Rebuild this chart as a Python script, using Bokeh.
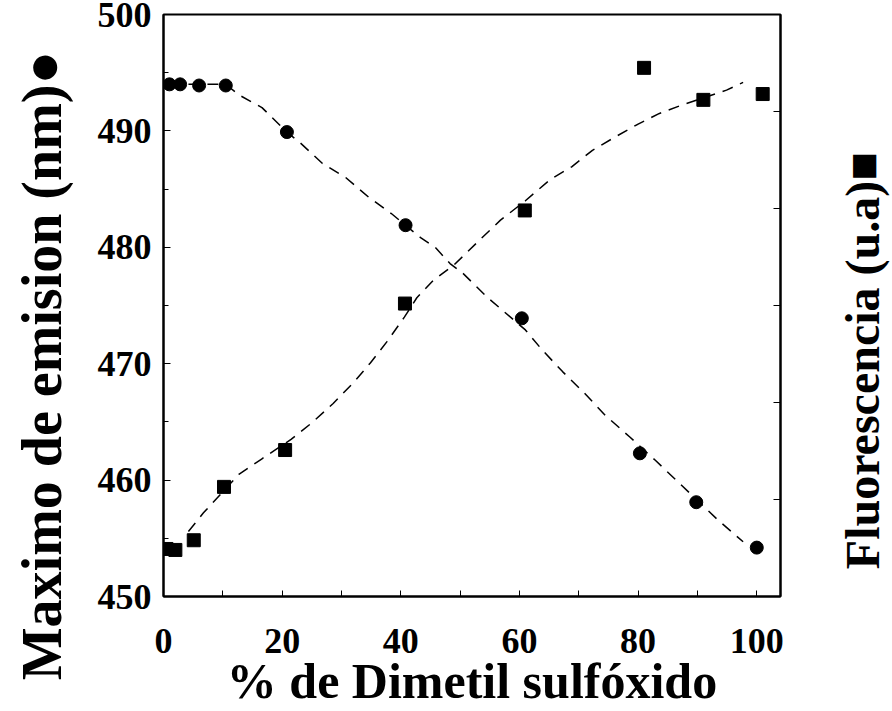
from bokeh.plotting import figure
from bokeh.layouts import row
from bokeh.models import Range1d, LinearAxis, FixedTicker, Label
from bokeh.embed import file_html
from bokeh.resources import INLINE

# --- data ---
pct_circ = [1.0, 2.8, 6.0, 10.5, 20.8, 40.8, 60.4, 80.3, 89.8, 100.0]
emis_max = [494.0, 494.0, 493.9, 493.9, 489.9, 481.9, 473.9, 462.3, 458.1, 454.2]

pct_sq = [0.5, 2.0, 5.1, 10.2, 20.5, 40.7, 60.9, 81.0, 91.0, 101.0]
fluor = [0.49, 0.48, 0.58, 1.13, 1.51, 3.02, 3.98, 5.45, 5.12, 5.18]

fit_emis_x = [1.0, 6.0, 10.5, 12.7, 16.6, 18.0, 20.8, 23.0, 26.8, 30.7, 34.6, 38.4,
              43.4, 45.8, 48.3, 50.4, 54.6, 61.0, 63.8, 67.3, 70.9, 74.4, 78.6,
              82.9, 86.4, 89.9, 93.4, 97.7]
fit_emis_y = [494.0, 494.0, 494.0, 493.1, 492.0, 491.3, 489.9, 489.0, 487.2, 486.0,
              484.3, 482.9, 480.8, 480.0, 478.6, 477.8, 475.7, 472.9, 471.2, 469.3,
              467.5, 465.6, 463.7, 461.7, 460.0, 458.3, 456.6, 454.7]

fit_fl_x = [4.2, 6.7, 12.7, 16.6, 21.5, 25.0, 28.6, 32.1, 34.9, 37.7, 40.6, 42.7,
            45.5, 49.0, 53.2, 56.8, 61.0, 65.2, 68.8, 72.3, 76.2, 80.0, 83.6, 87.1,
            91.0, 94.9, 97.7]
fit_fl_y = [0.67, 0.86, 1.26, 1.42, 1.62, 1.79, 1.99, 2.21, 2.41, 2.63, 2.88, 3.08,
            3.26, 3.42, 3.67, 3.88, 4.08, 4.30, 4.43, 4.60, 4.74, 4.87, 4.98, 5.06,
            5.14, 5.22, 5.30]

x_ticks = [0, 20, 40, 60, 80, 100]
x_minor = [10, 30, 50, 70, 90]
y_ticks = [450, 460, 470, 480, 490, 500]
y_minor = [455, 465, 475, 485, 495]
fl_ticks = [1, 2, 3, 4, 5]

x_title = "% de Dimetil sulfóxido"
y_title = "Maximo de emision (nm)●"
y2_title = "Fluorescencia (u.a)■"

FONT = "Liberation Serif"
H = 711
LEFT_W, RIGHT_W = 78, 70
MAIN_W = 892 - LEFT_W - RIGHT_W
FRAME_LEFT, FRAME_RIGHT = 163, 780

p = figure(width=MAIN_W, height=H, x_range=Range1d(0, 104), y_range=Range1d(450, 500),
           output_backend="svg", toolbar_location=None, frame_align=False,
           min_border_left=FRAME_LEFT - LEFT_W,
           min_border_right=(LEFT_W + MAIN_W) - FRAME_RIGHT,
           min_border_top=14, min_border_bottom=114)
p.extra_y_ranges = {"fl": Range1d(0, 6)}

p.xgrid.visible = False
p.ygrid.visible = False
p.outline_line_color = "black"
p.outline_line_width = 2
p.background_fill_color = "white"
p.border_fill_color = "white"

# left axis
ya = p.yaxis[0]
ya.ticker = FixedTicker(ticks=y_ticks, minor_ticks=y_minor)
ya.major_tick_in = 7
ya.major_tick_out = 0
ya.minor_tick_in = 5
ya.minor_tick_out = 0
ya.axis_line_width = 2
ya.major_label_text_font = FONT
ya.major_label_text_font_style = "bold"
ya.major_label_text_font_size = "36px"
ya.major_label_text_color = "black"
ya.major_label_standoff = 12

# bottom axis
xa = p.xaxis[0]
xa.ticker = FixedTicker(ticks=x_ticks, minor_ticks=x_minor)
xa.major_tick_in = 6
xa.major_tick_out = 0
xa.minor_tick_in = 6
xa.minor_tick_out = 0
xa.axis_line_width = 2
xa.major_label_text_font = FONT
xa.major_label_text_font_style = "bold"
xa.major_label_text_font_size = "36px"
xa.major_label_text_color = "black"
xa.major_label_standoff = 32
xa.axis_label = x_title
xa.axis_label_text_font = FONT
xa.axis_label_text_font_style = "bold"
xa.axis_label_text_font_size = "50px"
xa.axis_label_text_color = "black"
xa.axis_label_standoff = -3

# right axis (ticks only)
ra = LinearAxis(y_range_name="fl", ticker=FixedTicker(ticks=fl_ticks))
ra.major_tick_in = 7
ra.major_tick_out = 0
ra.minor_tick_in = 0
ra.minor_tick_out = 0
ra.axis_line_width = 2
ra.major_label_overrides = {t: "" for t in fl_ticks}
ra.major_label_standoff = 0
p.add_layout(ra, "right")

# fitted dashed curves
p.line(fit_emis_x, fit_emis_y, line_color="black", line_width=1.5, line_dash="11 8")
p.line(fit_fl_x, fit_fl_y, y_range_name="fl", line_color="black", line_width=1.5, line_dash="11 8")

# markers
p.scatter(pct_circ, emis_max, marker="circle", size=13, color="black")
p.scatter(pct_sq, fluor, y_range_name="fl", marker="square", size=13, color="black")


def side_title(width, text, cx, cy, size):
    f = figure(width=width, height=H, x_range=Range1d(0, width), y_range=Range1d(H, 0),
               output_backend="svg", toolbar_location=None, frame_align=False,
               x_axis_type=None, y_axis_type=None,
               min_border=0, min_border_left=0, min_border_right=0,
               min_border_top=0, min_border_bottom=0)
    f.xgrid.visible = False
    f.ygrid.visible = False
    f.outline_line_color = None
    f.background_fill_color = "white"
    f.border_fill_color = "white"
    f.add_layout(Label(x=cx, y=cy, text=text, angle=90, angle_units="deg",
                       text_font=FONT, text_font_style="bold", text_font_size=size,
                       text_align="center", text_baseline="middle", text_color="black"))
    return f


left_title = side_title(LEFT_W, y_title, 41, 365, "56px")
right_title = side_title(RIGHT_W, y2_title, 862 - (892 - RIGHT_W), 360, "48px")

layout = row(left_title, p, right_title, spacing=0)

open("out.html", "w").write(file_html(layout, INLINE))
